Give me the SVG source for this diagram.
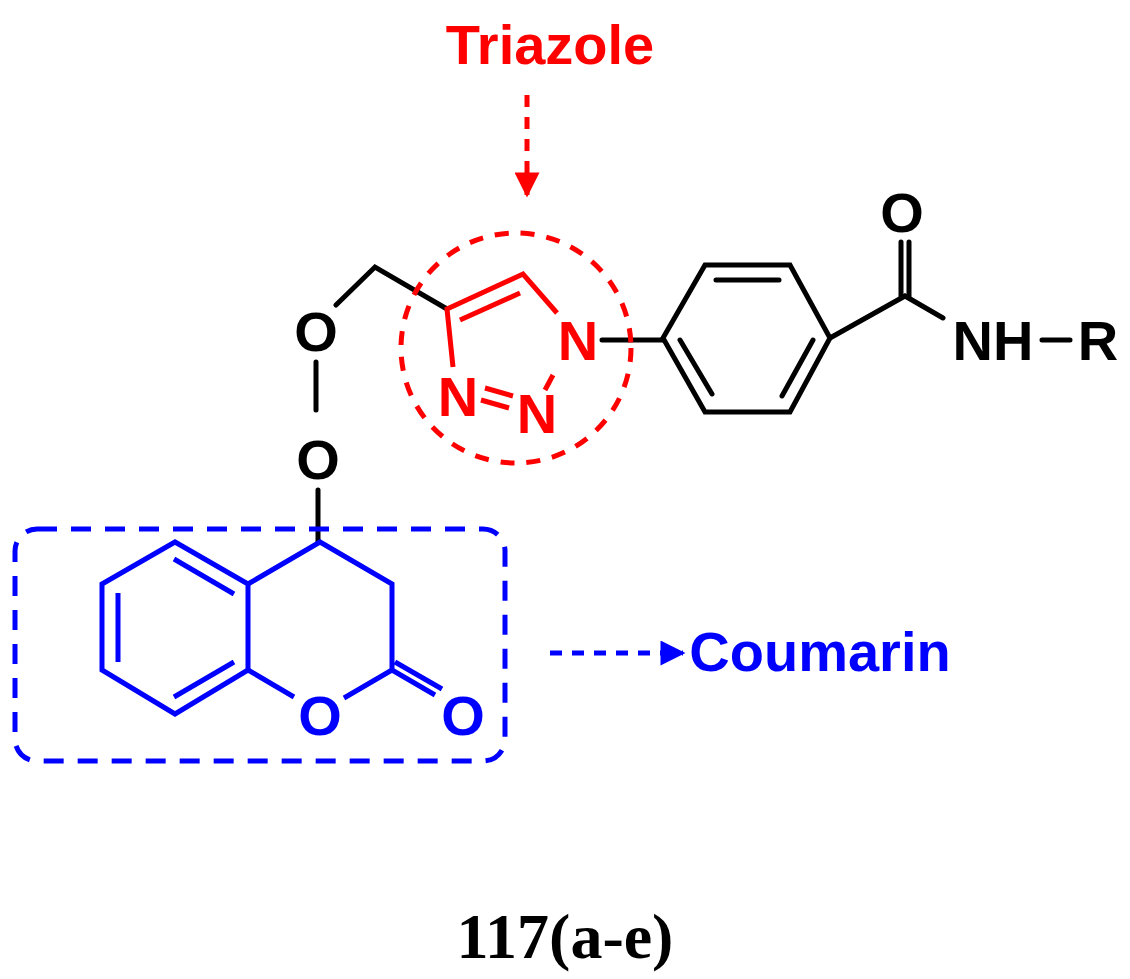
<svg xmlns="http://www.w3.org/2000/svg" width="1130" height="979" viewBox="0 0 1130 979">
<style>
.b{stroke:#000;stroke-width:5;fill:none;stroke-linecap:round}
.r{stroke:#f00;stroke-width:5;fill:none}
.u{stroke:#00f;stroke-width:5;fill:none}
.t{font-family:"Liberation Sans",Arial,sans-serif;font-weight:bold;font-size:56px;text-anchor:middle}
</style>
<defs>
<marker id="ar" viewBox="0 0 10 10" refX="9" refY="5" markerWidth="6" markerHeight="5" orient="auto"><path d="M0,0L10,5L0,10z" fill="#f00"/></marker>
<marker id="ab" viewBox="0 0 10 10" refX="9" refY="5" markerWidth="6" markerHeight="5" orient="auto"><path d="M0,0L10,5L0,10z" fill="#00f"/></marker>
</defs>
<rect width="1130" height="979" fill="#fff"/>
<g id="connectors">
<path class="r" d="M527,95V195" stroke-dasharray="12,10" marker-end="url(#ar)" stroke-width="3"/>
<path class="u" d="M550,653H683" stroke-dasharray="12,10" marker-end="url(#ab)" stroke-width="3"/>
<path class="b" d="M336,305L375,267L447,309M316,362V410M318,490V542M602,340H663M830,338L905,296L943,318M1042,340H1070"/>
<path class="b" d="M901,296V242M909,296V242"/>
</g>
<g id="triazole">
<circle cx="516" cy="348" r="115" class="r" stroke-dasharray="14,12" stroke-width="4"/>
<path class="r" d="M453,367L447,309L523,274L557,313M460,320L520,293M553,375L545,390M485,388L513,396M481,400L509,408"/>
<text class="t" x="578" y="360" fill="#f00">N</text>
<text class="t" x="458" y="416" fill="#f00">N</text>
<text class="t" x="537" y="433" fill="#f00">N</text>
<text class="t" x="550" y="64" fill="#f00" font-size="54">Triazole</text>
</g>
<g id="phenyl">
<path class="b" d="M663,338L705,265H790L830,338L790,412H705Z M716,280H779M680,340L712,394M813,340L782,396"/>
</g>
<g id="amide">
<text class="t" x="902" y="232">O</text>
<text class="t" x="993" y="360">NH</text>
<text class="t" x="1098" y="360">R</text>
</g>
<g id="peroxide">
<text class="t" x="316" y="351">O</text>
<text class="t" x="318" y="479">O</text>
</g>
<g id="coumarin">
<rect x="15" y="529" width="490" height="232" rx="22" class="u" stroke-dasharray="20,14" stroke-width="4"/>
<path class="u" d="M175,542L102,584V670L175,714L248,670V584Z M118,593V662M174,559L234,594M174,697L234,662"/>
<path class="u" d="M248,584L320,542L392,584V670L344,698M248,670L294,697M392,670L435,695M395,662L442,689"/>
<text class="t" x="320" y="735" fill="#00f">O</text>
<text class="t" x="463" y="735" fill="#00f">O</text>
<text class="t" x="820" y="671" fill="#00f">Coumarin</text>
</g>
<text x="565" y="958" font-family="Liberation Serif,serif" font-weight="bold" font-size="64" text-anchor="middle">117(a-e)</text>
</svg>
